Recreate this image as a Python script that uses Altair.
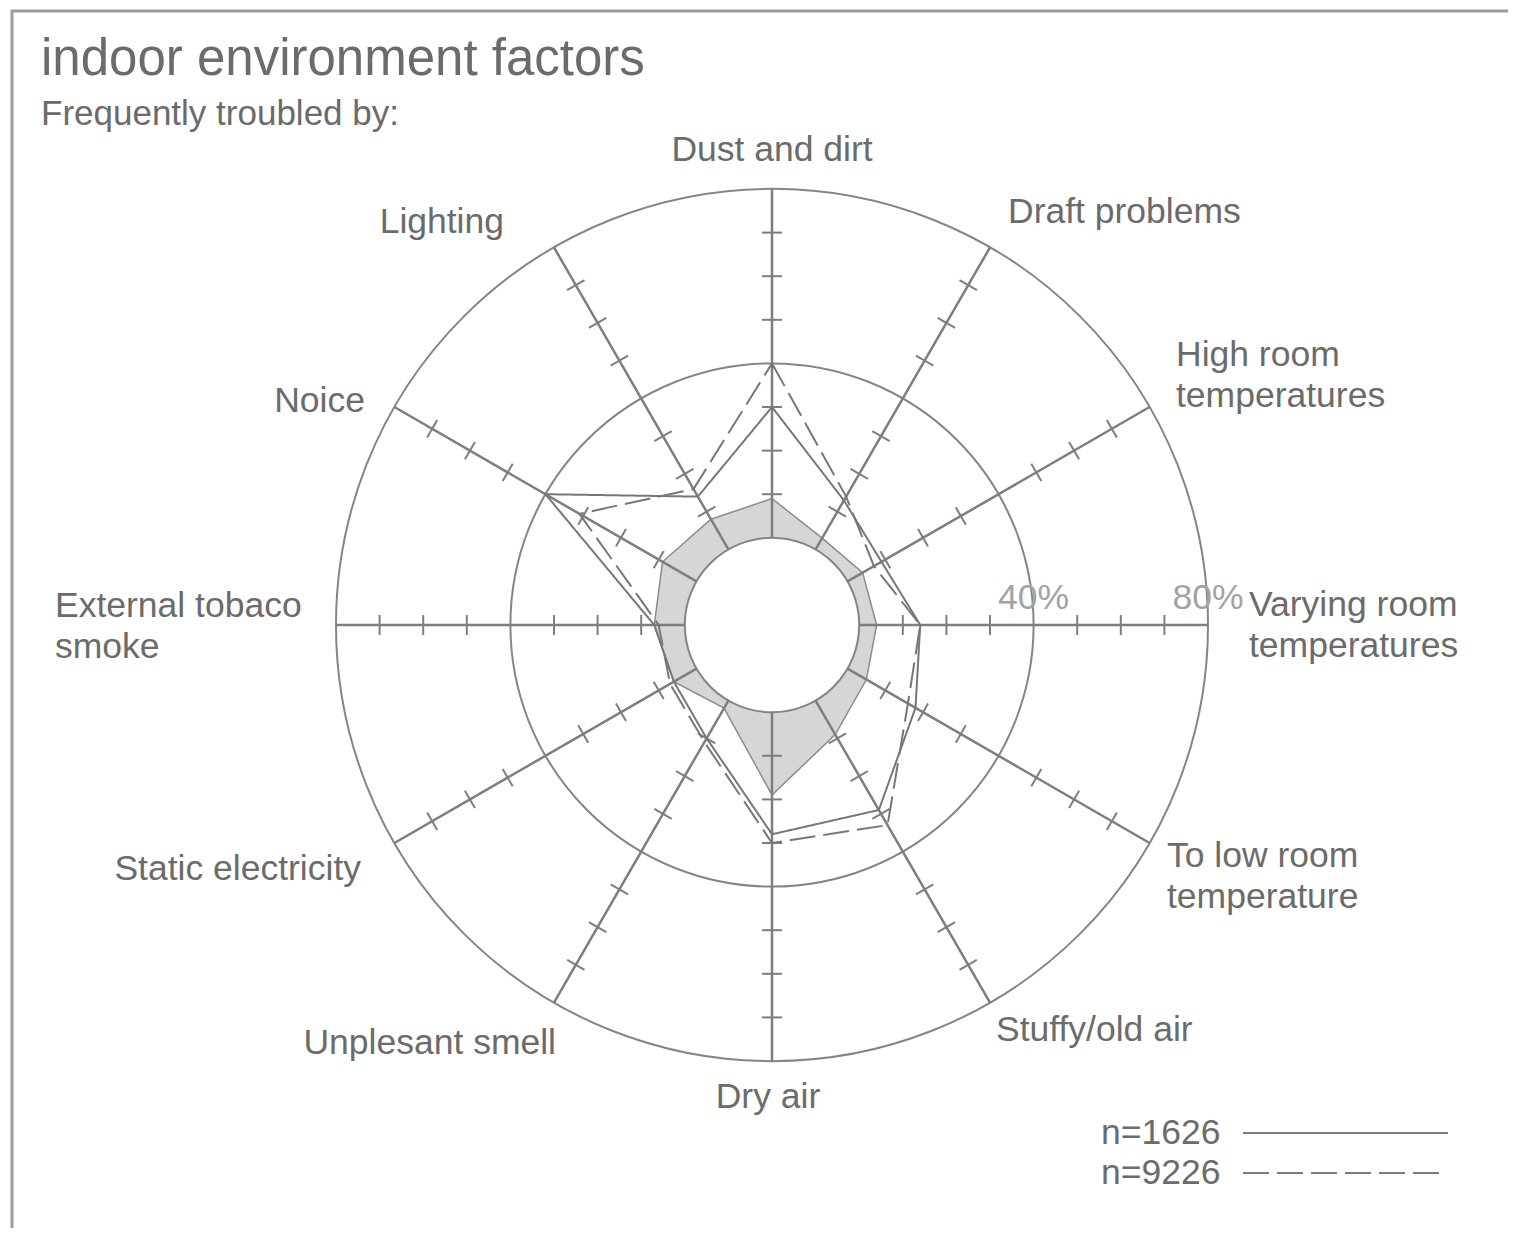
import altair as alt
import pandas as pd

# ---------------- data ----------------
CATEGORIES = [
    "Dust and dirt", "Draft problems", "High room\ntemperatures",
    "Varying room\ntemperatures", "To low room\ntemperature", "Stuffy/old air",
    "Dry air", "Unplesant smell", "Static electricity",
    "External tobaco\nsmoke", "Noice", "Lighting",
]
SERIES_1626 = [30, 13, 9, 14, 18, 29, 28, 10, 6, 7, 40, 14]
SERIES_9226 = [40, 14, 7, 14, 16, 33, 30, 11, 7, 6, 31, 16]
SHADED = [9, 3, 4, 4, 5, 9, 19, 2, 6, 7, 9, 8]
GRID_LEVELS = [40, 80]
LEVEL_LABELS = ["40%", "80%"]
TICK_LEVELS = [10, 20, 30, 50, 60, 70]
LEGEND_NAMES = ["n=1626", "n=9226"]
TITLE = "indoor environment factors"
SUBTITLE = "Frequently troubled by:"

# ---------------- layout ----------------
W, H = 1500, 1220
M = 8
CX, CY = 772 - M, 625 - M          # centre of the radar, in plot px
PX = 4.36                          # px per percent unit
HOLE = 20                          # radius (in units) of the 0 % ring
FONT = "Liberation Sans"
TXT = "#6b6b6b"
LINE = "#858585"
FS = 35.5

# label anchors (first text line) in page px and alignment (layout only)
LABEL_LAYOUT = [
    (772, 150, "center"), (1008, 212, "left"), (1176, 355, "left"),
    (1249, 605, "left"), (1167, 856, "left"), (996, 1030, "left"),
    (768, 1097, "center"), (556, 1043, "right"), (361, 869, "right"),
    (55, 606, "left"), (365, 401, "right"), (504, 222, "right"),
]

xs = alt.Scale(domain=[-CX / PX, (W - CX) / PX], nice=False, zero=False)
ys = alt.Scale(domain=[(CY - H) / PX, CY / PX], nice=False, zero=False)


def X(f):
    return alt.X(f, type="quantitative", scale=xs, axis=None)


def Y(f):
    return alt.Y(f, type="quantitative", scale=ys, axis=None)


ANG = "datum.idx * PI / 6"

# ---------------- tables ----------------
rows = []
for name, vals in [("n=1626", SERIES_1626), ("n=9226", SERIES_9226), ("shade", SHADED)]:
    for i in range(len(CATEGORIES) + 1):
        rows.append({"series": name, "idx": i, "value": vals[i % len(CATEGORIES)]})
series_df = pd.DataFrame(rows)

axis_df = pd.DataFrame({"idx": list(range(len(CATEGORIES)))})
tick_df = pd.DataFrame([{"idx": i, "level": lv} for i in range(len(CATEGORIES)) for lv in TICK_LEVELS])
grid_df = pd.DataFrame({"level": GRID_LEVELS, "label": LEVEL_LABELS})
hole_df = pd.DataFrame({"level": [0]})
label_df = pd.DataFrame({
    "text": CATEGORIES,
    "ux": [(p[0] - 772) / PX for p in LABEL_LAYOUT],
    "uy": [(625 - p[1]) / PX for p in LABEL_LAYOUT],
    "align": [p[2] for p in LABEL_LAYOUT],
})

# ---------------- layers ----------------
border = alt.Chart(pd.DataFrame({"a": [0]})).mark_rect(
    fillOpacity=0, stroke="#9c9c9c", strokeWidth=3
).encode(x=alt.value(4), y=alt.value(3), x2=alt.value(1700), y2=alt.value(1500))

grid = alt.Chart(grid_df).transform_calculate(
    sz=f"pow(2 * ({HOLE} + datum.level) * {PX}, 2)", x="0", y="0"
).mark_point(shape="circle", filled=False, stroke=LINE, strokeWidth=2, opacity=1).encode(
    x=X("x:Q"), y=Y("y:Q"), size=alt.Size("sz:Q", scale=None)
)

shade = alt.Chart(series_df).transform_filter(
    "datum.series == 'shade'"
).transform_calculate(
    r=f"{HOLE} + datum.value"
).transform_calculate(
    x=f"datum.r * sin({ANG})", y=f"datum.r * cos({ANG})"
).mark_line(fill="#d6d6d6", stroke="#8c8c8c", strokeWidth=1.5).encode(
    x=X("x:Q"), y=Y("y:Q"), order="idx:Q"
)

hole = alt.Chart(hole_df).transform_calculate(
    sz=f"pow(2 * {HOLE} * {PX}, 2)", x="0", y="0"
).mark_point(shape="circle", filled=True, fill="white", stroke=LINE, strokeWidth=2, opacity=1).encode(
    x=X("x:Q"), y=Y("y:Q"), size=alt.Size("sz:Q", scale=None)
)

axes = alt.Chart(axis_df).transform_calculate(
    x=f"{HOLE} * sin({ANG})", y=f"{HOLE} * cos({ANG})",
    x2=f"{HOLE + 80} * sin({ANG})", y2=f"{HOLE + 80} * cos({ANG})",
).mark_rule(stroke="#7e7e7e", strokeWidth=2.5).encode(
    x=X("x:Q"), y=Y("y:Q"), x2="x2:Q", y2="y2:Q"
)

TH = 2.3
ticks = alt.Chart(tick_df).transform_calculate(
    r=f"{HOLE} + datum.level"
).transform_calculate(
    x=f"datum.r * sin({ANG}) + {TH} * cos({ANG})",
    y=f"datum.r * cos({ANG}) - {TH} * sin({ANG})",
    x2=f"datum.r * sin({ANG}) - {TH} * cos({ANG})",
    y2=f"datum.r * cos({ANG}) + {TH} * sin({ANG})",
).mark_rule(stroke="#7e7e7e", strokeWidth=2).encode(
    x=X("x:Q"), y=Y("y:Q"), x2="x2:Q", y2="y2:Q"
)

DASH = alt.Scale(domain=LEGEND_NAMES, range=[[1, 0], [26, 8]])

lines = alt.Chart(series_df).transform_filter(
    "datum.series != 'shade'"
).transform_calculate(
    r=f"{HOLE} + datum.value"
).transform_calculate(
    x=f"datum.r * sin({ANG})", y=f"datum.r * cos({ANG})"
).mark_line(stroke="#777777", strokeWidth=2).encode(
    x=X("x:Q"), y=Y("y:Q"), order="idx:Q", detail="series:N",
    strokeDash=alt.StrokeDash("series:N", scale=DASH, legend=None),
)

level_text = alt.Chart(grid_df).transform_calculate(
    x=f"{HOLE} + datum.level", y="0"
).mark_text(font=FONT, fontSize=FS, color="#a3a3a3", dy=-27, align="center").encode(
    x=X("x:Q"), y=Y("y:Q"), text="label:N"
)

label_layers = []
for al in ["left", "center", "right"]:
    label_layers.append(
        alt.Chart(label_df).transform_filter(f"datum.align == '{al}'").mark_text(
            font=FONT, fontSize=FS, color=TXT, align=al, baseline="middle",
            lineBreak="\n", lineHeight=41,
        ).encode(x=X("ux:Q"), y=Y("uy:Q"), text="text:N")
    )

title = alt.Chart(pd.DataFrame({"t": [TITLE]})).mark_text(
    font=FONT, fontSize=51, color=TXT, align="left", baseline="alphabetic"
).encode(x=alt.value(33), y=alt.value(67), text="t:N")

subtitle = alt.Chart(pd.DataFrame({"t": [SUBTITLE]})).mark_text(
    font=FONT, fontSize=35, color=TXT, align="left", baseline="alphabetic"
).encode(x=alt.value(33), y=alt.value(117), text="t:N")

legend_layers = []
for k, name in enumerate(LEGEND_NAMES):
    yy = 1125 + 40 * k
    ldf = pd.DataFrame({"series": [name]})
    legend_layers.append(
        alt.Chart(ldf).mark_text(font=FONT, fontSize=FS, color=TXT, align="left", baseline="middle").encode(
            x=alt.value(1093), y=alt.value(yy), text="series:N"
        )
    )
    legend_layers.append(
        alt.Chart(ldf).mark_rule(stroke="#7a7a7a", strokeWidth=2).encode(
            x=alt.value(1235), x2=alt.value(1440 - 8 * k), y=alt.value(yy),
            strokeDash=alt.StrokeDash("series:N", scale=DASH, legend=None),
        )
    )

chart = alt.layer(
    border, grid, shade, hole, axes, ticks, lines, level_text,
    *label_layers, title, subtitle, *legend_layers
).properties(
    width=W, height=H, padding=0,
    autosize=alt.AutoSizeParams(type="none"),
    background="white",
).configure_view(stroke=None)

chart.save("out.html", embed_options={"renderer": "svg", "actions": False})
